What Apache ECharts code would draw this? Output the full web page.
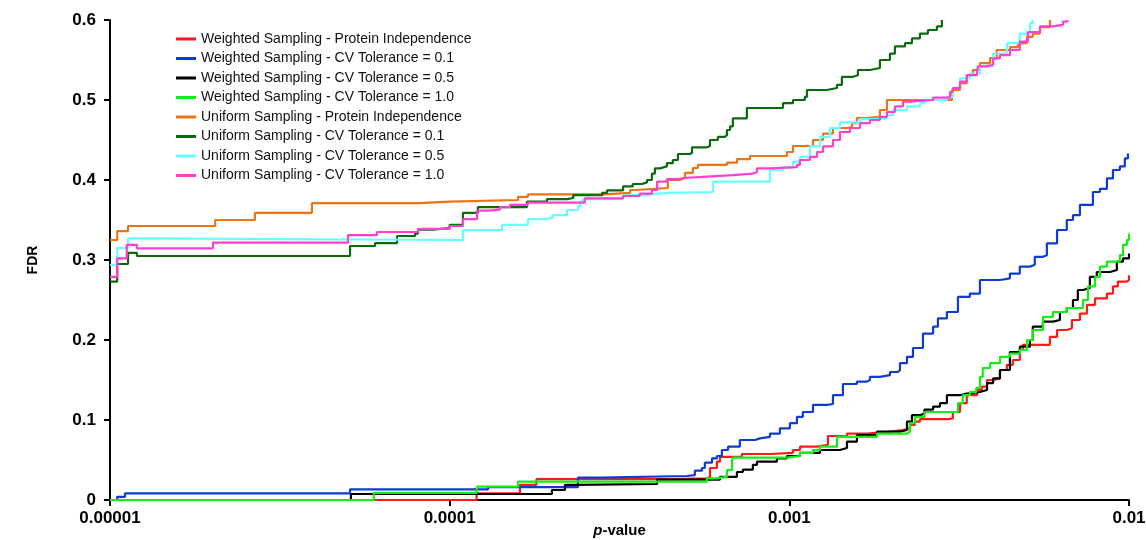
<!DOCTYPE html>
<html>
<head>
<meta charset="utf-8">
<script src="https://cdn.jsdelivr.net/npm/echarts@6/dist/echarts.min.js"></script>
<style>
  html, body { margin: 0; padding: 0; background: #fff; }
  #container { width: 1146px; height: 540px; }
</style>
</head>
<body>
<div id="container"></div>
<script>
// [p-value, FDR] pairs
var weightedPI = [[1e-5,0],[1.2e-4,0.0083],[1.61e-4,0.019],[1.8e-4,0.026],[4.5e-4,0.027],[5.72e-4,0.029],[5.84e-4,0.04],[6.12e-4,0.048],[6.25e-4,0.054],[7.25e-4,0.0575],[8.77e-4,0.059],[1.025e-3,0.0625],[1.075e-3,0.0667],[1.206e-3,0.069],[1.299e-3,0.08],[1.478e-3,0.083],[1.692e-3,0.0854],[1.978e-3,0.0875],[2.16e-3,0.0896],[2.265e-3,0.094],[2.343e-3,0.098],[2.424e-3,0.101],[2.93e-3,0.102],[3.03e-3,0.11],[3.18e-3,0.121],[3.33e-3,0.131],[3.57e-3,0.1375],[3.69e-3,0.1417],[3.82e-3,0.15],[3.98e-3,0.152],[4.17e-3,0.1625],[4.37e-3,0.169],[4.55e-3,0.175],[4.77e-3,0.1875],[4.87e-3,0.194],[5.85e-3,0.204],[6.14e-3,0.2125],[6.56e-3,0.2146],[6.79e-3,0.225],[7.17e-3,0.233],[7.52e-3,0.244],[7.94e-3,0.252],[8.61e-3,0.258],[8.97e-3,0.267],[9.27e-3,0.273],[9.86e-3,0.275],[1e-2,0.281]];
var weightedCV01 = [[1e-5,0],[1.05e-5,0.004],[1.107e-5,0.0083],[5.09e-5,0.0133],[1.297e-4,0.016],[2.386e-4,0.028],[2.77e-4,0.03],[4.99e-4,0.031],[5.27e-4,0.0367],[5.53e-4,0.04],[5.64e-4,0.0467],[5.92e-4,0.052],[6.12e-4,0.055],[6.33e-4,0.0625],[6.6e-4,0.0667],[7.15e-4,0.075],[7.92e-4,0.077],[8.19e-4,0.079],[8.77e-4,0.083],[9.38e-4,0.0896],[1.004e-3,0.096],[1.053e-3,0.104],[1.096e-3,0.11],[1.174e-3,0.119],[1.29e-3,0.12],[1.344e-3,0.131],[1.438e-3,0.145],[1.581e-3,0.148],[1.692e-3,0.15],[1.727e-3,0.154],[1.848e-3,0.156],[1.978e-3,0.16],[2.088e-3,0.1625],[2.117e-3,0.171],[2.22e-3,0.179],[2.312e-3,0.19],[2.474e-3,0.208],[2.65e-3,0.2167],[2.738e-3,0.227],[2.91e-3,0.235],[3.136e-3,0.254],[3.4e-3,0.258],[3.64e-3,0.275],[4.17e-3,0.277],[4.46e-3,0.283],[4.77e-3,0.2917],[5.11e-3,0.294],[5.28e-3,0.304],[5.58e-3,0.306],[5.73e-3,0.3208],[6.14e-3,0.3375],[6.56e-3,0.35],[6.84e-3,0.356],[7.17e-3,0.369],[7.83e-3,0.385],[8.21e-3,0.389],[8.61e-3,0.402],[8.97e-3,0.4125],[9.4e-3,0.417],[9.72e-3,0.427],[9.93e-3,0.433]];
var weightedCV05 = [[1e-5,0],[5.12e-5,0.0075],[2.0e-4,0.0125],[2.185e-4,0.019],[2.29e-4,0.02],[4.08e-4,0.0255],[6.25e-4,0.029],[7.01e-4,0.035],[7.3e-4,0.038],[7.81e-4,0.044],[8.03e-4,0.048],[9.19e-4,0.052],[9.84e-4,0.055],[1.075e-3,0.059],[1.231e-3,0.0625],[1.409e-3,0.065],[1.478e-3,0.073],[1.581e-3,0.081],[1.811e-3,0.0854],[2.117e-3,0.0875],[2.22e-3,0.098],[2.296e-3,0.106],[2.424e-3,0.108],[2.5e-3,0.113],[2.65e-3,0.1167],[2.776e-3,0.121],[2.91e-3,0.131],[3.18e-3,0.133],[3.33e-3,0.135],[3.64e-3,0.1375],[3.82e-3,0.146],[3.98e-3,0.152],[4.17e-3,0.1625],[4.46e-3,0.185],[4.77e-3,0.1917],[5.11e-3,0.2],[5.21e-3,0.2167],[5.58e-3,0.223],[5.97e-3,0.225],[6.26e-3,0.235],[6.56e-3,0.24],[6.84e-3,0.25],[7.07e-3,0.2625],[7.32e-3,0.265],[7.67e-3,0.279],[8.04e-3,0.285],[8.79e-3,0.2875],[9.21e-3,0.298],[9.6e-3,0.302],[1e-2,0.308]];
var weightedCV10 = [[1e-5,0],[5.98e-5,0.009],[1.203e-4,0.0167],[1.59e-4,0.023],[5.72e-4,0.027],[6.12e-4,0.029],[6.55e-4,0.0375],[6.78e-4,0.05],[6.82e-4,0.053],[9.84e-4,0.055],[1.075e-3,0.059],[1.174e-3,0.0625],[1.231e-3,0.0667],[1.381e-3,0.079],[1.811e-3,0.083],[2.22e-3,0.0854],[2.265e-3,0.096],[2.343e-3,0.104],[2.5e-3,0.11],[3.136e-3,0.121],[3.24e-3,0.131],[3.4e-3,0.135],[3.55e-3,0.14],[3.64e-3,0.154],[3.71e-3,0.165],[3.9e-3,0.171],[4.17e-3,0.179],[4.46e-3,0.183],[4.77e-3,0.1875],[5.01e-3,0.2],[5.21e-3,0.2125],[5.58e-3,0.229],[5.97e-3,0.235],[6.56e-3,0.24],[7.32e-3,0.25],[7.57e-3,0.267],[7.94e-3,0.279],[8.21e-3,0.2917],[8.61e-3,0.298],[9.4e-3,0.306],[9.6e-3,0.319],[9.86e-3,0.325],[1e-2,0.333]];
var uniformPI = [[1e-5,0.325],[1.05e-5,0.336],[1.13e-5,0.3425],[2.04e-5,0.35],[2.67e-5,0.359],[3.93e-5,0.371],[8.18e-5,0.373],[1e-4,0.375],[1.59e-4,0.379],[1.7e-4,0.382],[2.83e-4,0.384],[3.4e-4,0.3875],[3.51e-4,0.39],[4.39e-4,0.4],[4.76e-4,0.4025],[4.93e-4,0.409],[5.2e-4,0.415],[5.38e-4,0.419],[6.55e-4,0.4216],[7.01e-4,0.426],[7.66e-4,0.43],[9.84e-4,0.435],[1.025e-3,0.4425],[1.174e-3,0.45],[1.256e-3,0.458],[1.344e-3,0.465],[1.478e-3,0.466],[1.529e-3,0.471],[1.581e-3,0.4775],[1.692e-3,0.479],[1.848e-3,0.4875],[1.938e-3,0.5],[3.01e-3,0.5125],[3.18e-3,0.521],[3.33e-3,0.531],[3.47e-3,0.5375],[3.64e-3,0.546],[3.9e-3,0.5525],[4.08e-3,0.5625],[4.46e-3,0.566],[4.71e-3,0.571],[5.01e-3,0.579],[5.21e-3,0.583],[5.47e-3,0.591],[5.85e-3,0.6]];
var uniformCV01 = [[1e-5,0.273],[1.05e-5,0.295],[1.13e-5,0.309],[1.2e-5,0.305],[5.09e-5,0.3175],[6.03e-5,0.321],[7.0e-5,0.33],[7.91e-5,0.333],[8.07e-5,0.338],[8.93e-5,0.34],[1e-4,0.344],[1.094e-4,0.359],[1.211e-4,0.366],[1.689e-4,0.373],[1.934e-4,0.376],[2.215e-4,0.3775],[2.31e-4,0.381],[2.81e-4,0.384],[2.905e-4,0.387],[3.24e-4,0.392],[3.46e-4,0.395],[3.68e-4,0.397],[3.81e-4,0.4],[3.94e-4,0.408],[4.02e-4,0.4146],[4.16e-4,0.417],[4.36e-4,0.421],[4.54e-4,0.425],[4.7e-4,0.4325],[5.1e-4,0.434],[5.17e-4,0.4408],[5.72e-4,0.4425],[5.84e-4,0.45],[6.16e-4,0.454],[6.46e-4,0.456],[6.55e-4,0.4625],[6.69e-4,0.467],[6.82e-4,0.477],[7.5e-4,0.49],[9.58e-4,0.496],[1.025e-3,0.5],[1.111e-3,0.504],[1.127e-3,0.5125],[1.29e-3,0.515],[1.381e-3,0.519],[1.428e-3,0.529],[1.539e-3,0.531],[1.592e-3,0.5375],[1.727e-3,0.54],[1.848e-3,0.55],[1.978e-3,0.558],[2.046e-3,0.567],[2.19e-3,0.571],[2.296e-3,0.577],[2.424e-3,0.583],[2.559e-3,0.5875],[2.72e-3,0.592],[2.813e-3,0.6]];
var uniformCV05 = [[1e-5,0.294],[1.05e-5,0.315],[1.13e-5,0.327],[1.2e-5,0.325],[1.094e-4,0.3375],[1.426e-4,0.344],[1.7e-4,0.351],[1.908e-4,0.353],[2.014e-4,0.356],[2.215e-4,0.3625],[2.386e-4,0.3675],[2.42e-4,0.373],[2.47e-4,0.376],[3.215e-4,0.377],[3.24e-4,0.381],[3.81e-4,0.382],[3.89e-4,0.384],[4.39e-4,0.385],[5.96e-4,0.398],[8.77e-4,0.4125],[9.58e-4,0.416],[1.025e-3,0.423],[1.075e-3,0.429],[1.15e-3,0.442],[1.231e-3,0.454],[1.317e-3,0.465],[1.409e-3,0.472],[1.614e-3,0.476],[1.762e-3,0.477],[1.938e-3,0.481],[2.018e-3,0.4875],[2.22e-3,0.492],[2.424e-3,0.496],[2.5e-3,0.5],[2.91e-3,0.504],[3.03e-3,0.515],[3.18e-3,0.527],[3.4e-3,0.533],[3.64e-3,0.542],[3.98e-3,0.558],[4.37e-3,0.571],[4.77e-3,0.583],[5.11e-3,0.596],[5.21e-3,0.6]];
var uniformCV10 = [[1e-5,0.279],[1.05e-5,0.302],[1.12e-5,0.319],[1.2e-5,0.3146],[2.01e-5,0.3217],[5.02e-5,0.331],[6.11e-5,0.335],[8.07e-5,0.339],[1e-4,0.3425],[1.094e-4,0.351],[1.203e-4,0.3617],[1.297e-4,0.363],[1.406e-4,0.366],[1.505e-4,0.369],[1.7e-4,0.3717],[2.5e-4,0.377],[3.24e-4,0.38],[3.63e-4,0.383],[3.94e-4,0.3875],[4.08e-4,0.398],[4.36e-4,0.401],[4.7e-4,0.4025],[4.86e-4,0.404],[5.57e-4,0.406],[6.82e-4,0.408],[7.81e-4,0.41],[8.03e-4,0.4146],[8.77e-4,0.416],[1.053e-3,0.419],[1.075e-3,0.425],[1.15e-3,0.429],[1.206e-3,0.435],[1.256e-3,0.442],[1.344e-3,0.45],[1.409e-3,0.46],[1.508e-3,0.465],[1.614e-3,0.471],[1.727e-3,0.475],[1.848e-3,0.479],[1.938e-3,0.485],[2.046e-3,0.492],[2.16e-3,0.498],[2.265e-3,0.5],[2.65e-3,0.503],[2.97e-3,0.51],[3.03e-3,0.515],[3.18e-3,0.523],[3.33e-3,0.531],[3.57e-3,0.535],[3.59e-3,0.542],[3.82e-3,0.544],[3.98e-3,0.552],[4.17e-3,0.556],[4.46e-3,0.5625],[4.77e-3,0.573],[5.04e-3,0.585],[5.47e-3,0.592],[5.97e-3,0.594],[6.39e-3,0.598],[6.59e-3,0.6]];

var seriesNames = [
    'Weighted Sampling - Protein Independence',
    'Weighted Sampling - CV Tolerance = 0.1',
    'Weighted Sampling - CV Tolerance = 0.5',
    'Weighted Sampling - CV Tolerance = 1.0',
    'Uniform Sampling - Protein Independence',
    'Uniform Sampling - CV Tolerance = 0.1',
    'Uniform Sampling - CV Tolerance = 0.5',
    'Uniform Sampling - CV Tolerance = 1.0'
];
var seriesData = [weightedPI, weightedCV01, weightedCV05, weightedCV10, uniformPI, uniformCV01, uniformCV05, uniformCV10];
var seriesColors = ['#ff1a1a', '#0d3bd4', '#000000', '#14ee14', '#ec7414', '#0b6a0b', '#66ffff', '#ff3fd0'];
var xTicks = [0.00001, 0.0001, 0.001, 0.01];

var dom = document.getElementById("container");
var myChart = echarts.init(dom, null, { renderer: 'canvas' });

var series = [];
for (var i = 0; i < seriesData.length; i++) {
    series.push({
        name: seriesNames[i],
        type: 'line',
        step: 'end',
        data: seriesData[i],
        showSymbol: false,
        symbol: 'none',
        color: seriesColors[i],
        lineStyle: { width: 2.2, color: seriesColors[i] }
    });
}

var option = {
    animation: false,
    backgroundColor: '#fff',
    textStyle: { fontFamily: 'Liberation Sans, Arial, sans-serif' },
    grid: { left: 110, right: 17, top: 20, bottom: 40, containLabel: false, outerBoundsMode: 'none' },
    legend: {
        orient: 'vertical',
        left: 171,
        top: 27,
        itemWidth: 20,
        itemHeight: 3,
        itemGap: 5.5,
        icon: 'rect',
        textStyle: { fontSize: 14, color: '#111', lineHeight: 14, fontFamily: 'Liberation Sans, Arial, sans-serif' },
        data: seriesNames
    },
    xAxis: {
        type: 'log',
        logBase: 10,
        min: xTicks[0],
        max: xTicks[xTicks.length - 1],
        name: '{i|p}-value',
        nameLocation: 'middle',
        nameGap: 23,
        nameMoveOverlap: false,
        nameTextStyle: {
            fontSize: 15, fontWeight: 'bold', color: '#000',
            rich: { i: { fontSize: 15, fontWeight: 'bold', fontStyle: 'italic', color: '#000' } }
        },
        axisLine: { lineStyle: { color: '#000', width: 2 } },
        axisTick: { show: true, length: 6, lineStyle: { color: '#000', width: 2 } },
        minorTick: { show: false },
        splitLine: { show: false },
        axisLabel: {
            fontSize: 17, fontWeight: 'bold', color: '#000', margin: 10,
            formatter: function (v) {
                var n = Math.round(-Math.log10(v));
                return v.toFixed(n);
            }
        }
    },
    yAxis: {
        type: 'value',
        min: 0,
        max: 0.6,
        interval: 0.1,
        name: 'FDR',
        nameLocation: 'middle',
        nameGap: 70,
        nameMoveOverlap: false,
        nameTextStyle: { fontSize: 14, fontWeight: 'bold', color: '#000' },
        axisLine: { show: true, lineStyle: { color: '#000', width: 2 } },
        axisTick: { show: true, length: 6, lineStyle: { color: '#000', width: 2 } },
        splitLine: { show: false },
        axisLabel: { fontSize: 17, fontWeight: 'bold', color: '#000', margin: 14 }
    },
    series: series
};

myChart.setOption(option, true);
</script>
</body>
</html>
